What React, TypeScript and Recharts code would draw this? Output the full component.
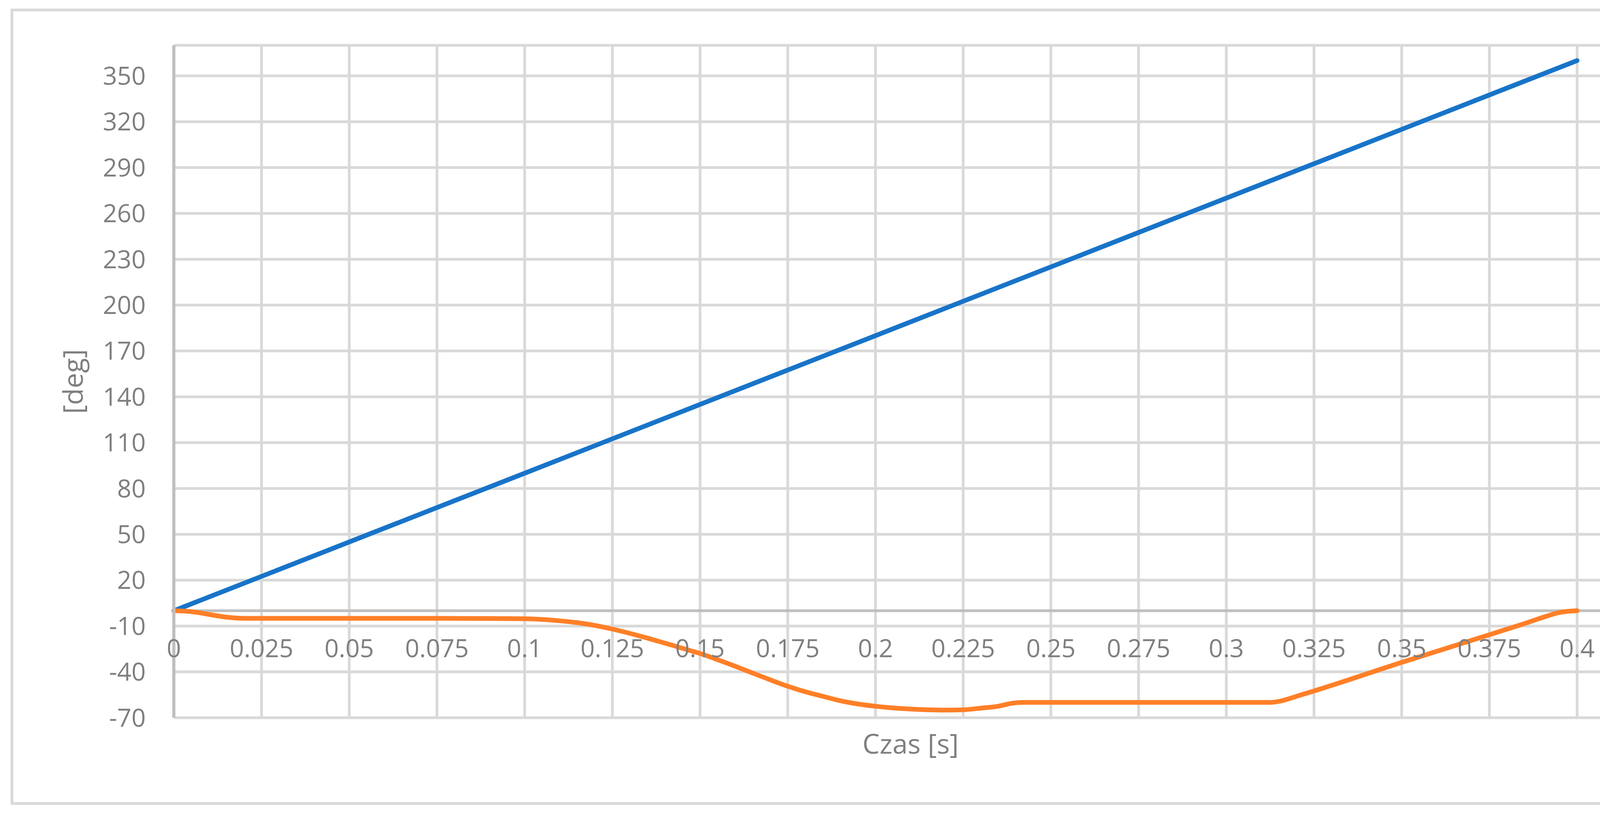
import { CartesianGrid, Label, Line, LineChart, ReferenceLine, XAxis, YAxis } from "recharts";

// canvas + plot box (px)
const W = 4408;
const H = 2082;
const PLOT_TOP = 116;
const PLOT_BOTTOM = 1838;
const PLOT_RIGHT = 4217;
const Y_AXIS_W = 445;

const Y_MIN = -70;
const Y_MAX = 370;
const X_MAX = 0.42;

const timeTicks = [
  0, 0.025, 0.05, 0.075, 0.1, 0.125, 0.15, 0.175, 0.2, 0.225, 0.25, 0.275, 0.3,
  0.325, 0.35, 0.375, 0.4,
];
const degTicks = [-70, -40, -10, 20, 50, 80, 110, 140, 170, 200, 230, 260, 290, 320, 350];

// blue series (straight line)
const blueTime = [
  0, 0.025, 0.05, 0.075, 0.1, 0.125, 0.15, 0.175, 0.2, 0.225, 0.25, 0.275, 0.3,
  0.325, 0.35, 0.375, 0.4,
];
const blueDeg = [
  0, 22.5, 45, 67.5, 90, 112.5, 135, 157.5, 180, 202.5, 225, 247.5, 270, 292.5,
  315, 337.5, 360,
];

// orange series
const orangeTime = [
  0, 0.004, 0.008, 0.0115, 0.015, 0.019, 0.022, 0.05, 0.075, 0.1, 0.105, 0.11,
  0.115, 0.12, 0.125, 0.13, 0.135, 0.14, 0.145, 0.15, 0.155, 0.16, 0.165, 0.17,
  0.175, 0.18, 0.185, 0.19, 0.195, 0.2, 0.205, 0.21, 0.215, 0.22, 0.225, 0.2305,
  0.2344, 0.2391, 0.2422, 0.25, 0.275, 0.3, 0.312, 0.315, 0.318, 0.3207, 0.325,
  0.35, 0.375, 0.385, 0.3918, 0.395, 0.4,
];
const orangeDeg = [
  0, -0.4, -1.6, -3, -4.2, -4.9, -5, -5, -5, -5.2, -5.7, -6.6, -7.8, -9.6, -12,
  -14.8, -17.9, -21.2, -24.6, -28, -32, -36.3, -40.8, -45.2, -49.4, -53, -56,
  -58.9, -61, -62.5, -63.6, -64.3, -64.8, -65, -64.8, -63.6, -62.7, -60.5, -60,
  -60, -60, -60, -60, -59.3, -57.5, -55.5, -52.5, -33.8, -15.7, -8.4, -3.2, -1.1,
  0,
];

const blueData = blueTime.map((t, i) => ({ t, deg: blueDeg[i] }));
const orangeData = orangeTime.map((t, i) => ({ t, deg: orangeDeg[i] }));

const TEXT = "#7f7f7f";
const FONT = "'Open Sans', 'Noto Sans', sans-serif";
const GRID = "#d9d9d9";
const AXIS = "#bfbfbf";

// y pixel of 0 deg, where Excel crosses the time axis
const ZERO_Y = PLOT_TOP + ((Y_MAX - 0) / (Y_MAX - Y_MIN)) * (PLOT_BOTTOM - PLOT_TOP);

function TimeTick(props: any) {
  const { x, y, payload } = props;
  return (
    <text
      x={x}
      y={y - (PLOT_BOTTOM - ZERO_Y) + 74}
      dy="0.71em"
      textAnchor="middle"
      fill={TEXT}
      fontSize={64}
      fontFamily={FONT}
    >
      {String(payload.value)}
    </text>
  );
}

export default function App() {
  return (
    <div style={{ position: "absolute", left: 0, top: 0, width: W, height: H, background: "#fff" }}>
      <div
        style={{
          position: "absolute",
          left: 27,
          top: 22,
          width: 4354,
          height: 2039,
          border: `7px solid ${GRID}`,
          boxSizing: "border-box",
        }}
      />
      <div style={{ position: "absolute", left: 0, top: 0 }}>
        <LineChart
          width={W}
          height={H}
          margin={{ top: PLOT_TOP, right: W - PLOT_RIGHT, bottom: 0, left: 0 }}
        >
          <CartesianGrid stroke={GRID} strokeWidth={7} />
          <XAxis
            dataKey="t"
            type="number"
            domain={[0, X_MAX]}
            ticks={timeTicks}
            allowDuplicatedCategory={false}
            axisLine={false}
            tickLine={false}
            tickSize={0}
            tickMargin={0}
            height={H - PLOT_BOTTOM}
            tick={<TimeTick />}
            interval={0}
          >
            <Label
              value="Czas [s]"
              position="insideTop"
              offset={42}
              fill={TEXT}
              fontSize={70}
              fontFamily={FONT}
            />
          </XAxis>
          <YAxis
            type="number"
            domain={[Y_MIN, Y_MAX]}
            ticks={degTicks}
            width={Y_AXIS_W}
            axisLine={{ stroke: AXIS, strokeWidth: 8 }}
            tickLine={false}
            tickSize={0}
            tickMargin={72}
            interval={0}
            tick={{ fill: TEXT, fontSize: 64, fontFamily: FONT }}
          >
            <Label
              value="[deg]"
              angle={-90}
              position="insideLeft"
              offset={187}
              fill={TEXT}
              fontSize={70}
              fontFamily={FONT}
              style={{ textAnchor: "middle" }}
            />
          </YAxis>
          <ReferenceLine y={0} stroke={AXIS} strokeWidth={7} />
          <Line
            data={blueData}
            dataKey="deg"
            type="linear"
            stroke="#1874c8"
            strokeWidth={12}
            strokeLinecap="round"
            dot={false}
            activeDot={false}
            isAnimationActive={false}
          />
          <Line
            data={orangeData}
            dataKey="deg"
            type="monotone"
            stroke="#ff7f27"
            strokeWidth={12}
            strokeLinecap="round"
            dot={false}
            activeDot={false}
            isAnimationActive={false}
          />
        </LineChart>
      </div>
    </div>
  );
}
